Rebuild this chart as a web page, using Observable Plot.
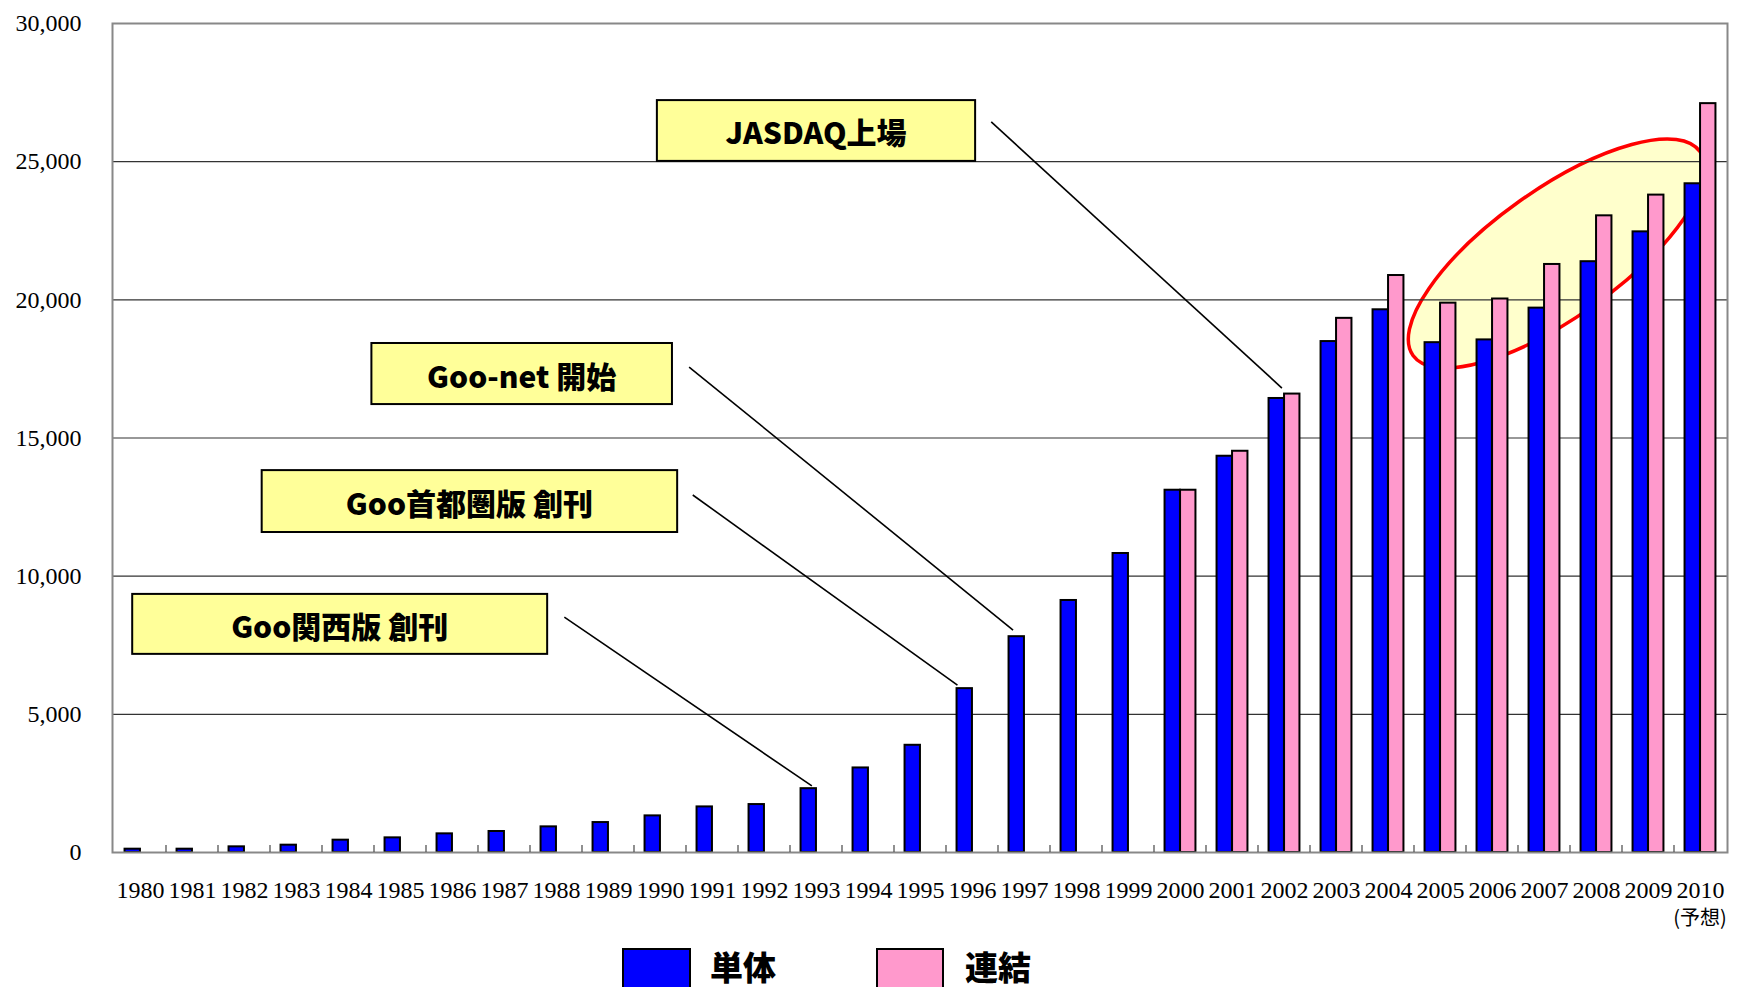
<!DOCTYPE html>
<html>
<head>
<meta charset="utf-8">
<script src="https://cdn.jsdelivr.net/npm/d3@7"></script>
<script src="https://cdn.jsdelivr.net/npm/@observablehq/plot@0.6"></script>
<style>
  html, body { margin: 0; padding: 0; background: #fff; width: 1740px; height: 987px; overflow: hidden; }
  #chart { position: absolute; left: 0; top: 0; }
  #legend { position: absolute; left: 0; top: 948px; width: 1740px; height: 39px; }
  .sw { position: absolute; top: 0; height: 39px; border: 2px solid #000; border-bottom: none; box-sizing: border-box; }
  .lt { position: absolute; top: 1px; font-family: "Noto Sans CJK JP", sans-serif; font-weight: 900; font-size: 33px; line-height: 34px; color: #000; white-space: nowrap; }
</style>
</head>
<body>
<div id="chart"></div>
<div id="legend"></div>
<script>
// ---------- data ----------
const years = ["1980","1981","1982","1983","1984","1985","1986","1987","1988","1989",
               "1990","1991","1992","1993","1994","1995","1996","1997","1998","1999",
               "2000","2001","2002","2003","2004","2005","2006","2007","2008","2009","2010"];
// 単体 (non-consolidated)
const tantai = [120,120,205,265,446,530,675,760,928,1084,
                1325,1650,1735,2310,3060,3880,5930,7810,9120,10820,
                13110,14340,16430,18490,19640,18450,18550,19700,21380,22460,24200];
// 連結 (consolidated), from 2000
const renketsuYears = ["2000","2001","2002","2003","2004","2005","2006","2007","2008","2009","2010"];
const renketsu = [13110,14520,16590,19330,20880,19880,20030,21280,23040,23790,27100];
const seriesNames = ["単体","連結"];
const yTicks = [0,5000,10000,15000,20000,25000,30000];
const gridValues = [5000,10000,15000,20000,25000];
const forecastYear = "2010";
const forecastNote = "(予想)";

// annotations (in data units: fractional year position, value)
const calloutLabels = ["JASDAQ上場","Goo-net 開始","Goo首都圏版 創刊","Goo関西版 創刊"];
const calloutBoxX = [[1990.44,1996.56],[1984.95,1990.73],[1982.84,1990.83],[1980.35,1988.33]];
const calloutBoxV = [[27210,25010],[18420,16210],[13820,11580],[9340,7170]];
const calloutLineFrom = [[1996.87,26420],[1991.06,17550],[1991.13,12920],[1988.66,8500]];
const calloutLineTo = [[2002.46,16790],[1997.29,8030],[1996.22,6040],[1993.42,2390]];
const ellipseCenter = [2007.74, 21660];

// ---------- layout / style ----------
const W = 1740, H = 940, ML = 112, MR = 13, MT = 23, MB = 88;
const BW = (W - ML - MR) / years.length;
const BAR = 15.5;
const BLUE = "#0000ff", PINK = "#ff99cc";

const rows = [];
tantai.forEach((v, i) => rows.push({year: years[i], series: seriesNames[0], value: v}));
renketsu.forEach((v, i) => rows.push({year: renketsuYears[i], series: seriesNames[1], value: v}));

function helpers(scales) {
  const x = scales.x, y = scales.y;
  const bw = x.bandwidth ? x.bandwidth() : BW;
  const xf = t => { const f = Math.floor(t); return x(String(f)) + (t - f) * bw; };
  return {x, y, bw, xf};
}

function ellipseMark(index, scales) {
  const {y, xf} = helpers(scales);
  const g = d3.create("svg:g");
  g.append("ellipse")
    .attr("cx", 0).attr("cy", 0).attr("rx", 176).attr("ry", 64)
    .attr("transform", `translate(${xf(ellipseCenter[0])},${y(ellipseCenter[1])}) rotate(-35.4)`)
    .attr("fill", "#ffffcc").attr("stroke", "#ff0000").attr("stroke-width", 3.5);
  return g.node();
}

function ticksMark(index, scales) {
  const {x, y, bw} = helpers(scales);
  const g = d3.create("svg:g");
  years.slice(1).forEach(yr => {
    const px = x(yr);
    g.append("line").attr("x1", px).attr("x2", px).attr("y1", y(0)).attr("y2", y(0) - 7)
      .attr("stroke", "#555").attr("stroke-width", 1.3);
  });
  g.append("text")
    .attr("x", x(forecastYear) + bw / 2).attr("y", y(0) + 64)
    .attr("text-anchor", "middle").attr("dominant-baseline", "central")
    .attr("font-family", "'Noto Sans CJK JP', sans-serif").attr("font-size", 20)
    .text(forecastNote);
  return g.node();
}

function calloutMark(index, scales) {
  const {y, xf} = helpers(scales);
  const g = d3.create("svg:g");
  calloutLabels.forEach((label, i) => {
    const [a, b] = calloutLineFrom[i], [c, d] = calloutLineTo[i];
    g.append("line").attr("x1", xf(a)).attr("y1", y(b)).attr("x2", xf(c)).attr("y2", y(d))
      .attr("stroke", "#000").attr("stroke-width", 1.6);
    const x0 = xf(calloutBoxX[i][0]), x1 = xf(calloutBoxX[i][1]);
    const y0 = y(calloutBoxV[i][0]), y1 = y(calloutBoxV[i][1]);
    g.append("rect").attr("x", x0).attr("y", y0).attr("width", x1 - x0).attr("height", y1 - y0)
      .attr("fill", "#ffff99").attr("stroke", "#000").attr("stroke-width", 2);
    g.append("text").attr("x", (x0 + x1) / 2).attr("y", (y0 + y1) / 2 + 1)
      .attr("text-anchor", "middle").attr("dominant-baseline", "central")
      .attr("font-family", "'Noto Sans CJK JP', sans-serif").attr("font-weight", 900)
      .attr("font-size", 30).attr("fill", "#000")
      .text(label);
  });
  return g.node();
}

const chart = Plot.plot({
  width: W, height: H,
  marginLeft: ML, marginRight: MR, marginTop: MT, marginBottom: MB,
  style: {fontFamily: "'Liberation Serif', 'Times New Roman', serif", fontSize: "24px", background: "#fff", color: "#000", overflow: "visible"},
  x: {type: "band", domain: years, padding: 0, tickSize: 0, tickPadding: 28, label: null},
  y: {domain: [0, 30000], ticks: yTicks, tickSize: 0, tickPadding: 31, tickFormat: d3.format(","), label: null},
  marks: [
    ellipseMark,
    Plot.ruleY(gridValues, {stroke: "#333", strokeWidth: 1.2}),
    Plot.barY(rows.filter(d => d.series === seriesNames[0]), {
      x: "year", y: "value", fill: BLUE, stroke: "#000", strokeWidth: 2,
      insetLeft: BW / 2 - BAR, insetRight: BW / 2
    }),
    Plot.barY(rows.filter(d => d.series === seriesNames[1]), {
      x: "year", y: "value", fill: PINK, stroke: "#000", strokeWidth: 2,
      insetLeft: BW / 2, insetRight: BW / 2 - BAR
    }),
    Plot.frame({stroke: "#888", strokeWidth: 2}),
    ticksMark,
    calloutMark
  ]
});
document.getElementById("chart").appendChild(chart);

// legend
const legend = document.getElementById("legend");
const legendItems = [
  {name: seriesNames[0], color: BLUE, swLeft: 622, swWidth: 69, textLeft: 710},
  {name: seriesNames[1], color: PINK, swLeft: 876, swWidth: 68, textLeft: 965}
];
legendItems.forEach(it => {
  const sw = document.createElement("div");
  sw.className = "sw";
  sw.style.left = it.swLeft + "px";
  sw.style.width = it.swWidth + "px";
  sw.style.background = it.color;
  legend.appendChild(sw);
  const t = document.createElement("div");
  t.className = "lt";
  t.style.left = it.textLeft + "px";
  t.textContent = it.name;
  legend.appendChild(t);
});
</script>
</body>
</html>
